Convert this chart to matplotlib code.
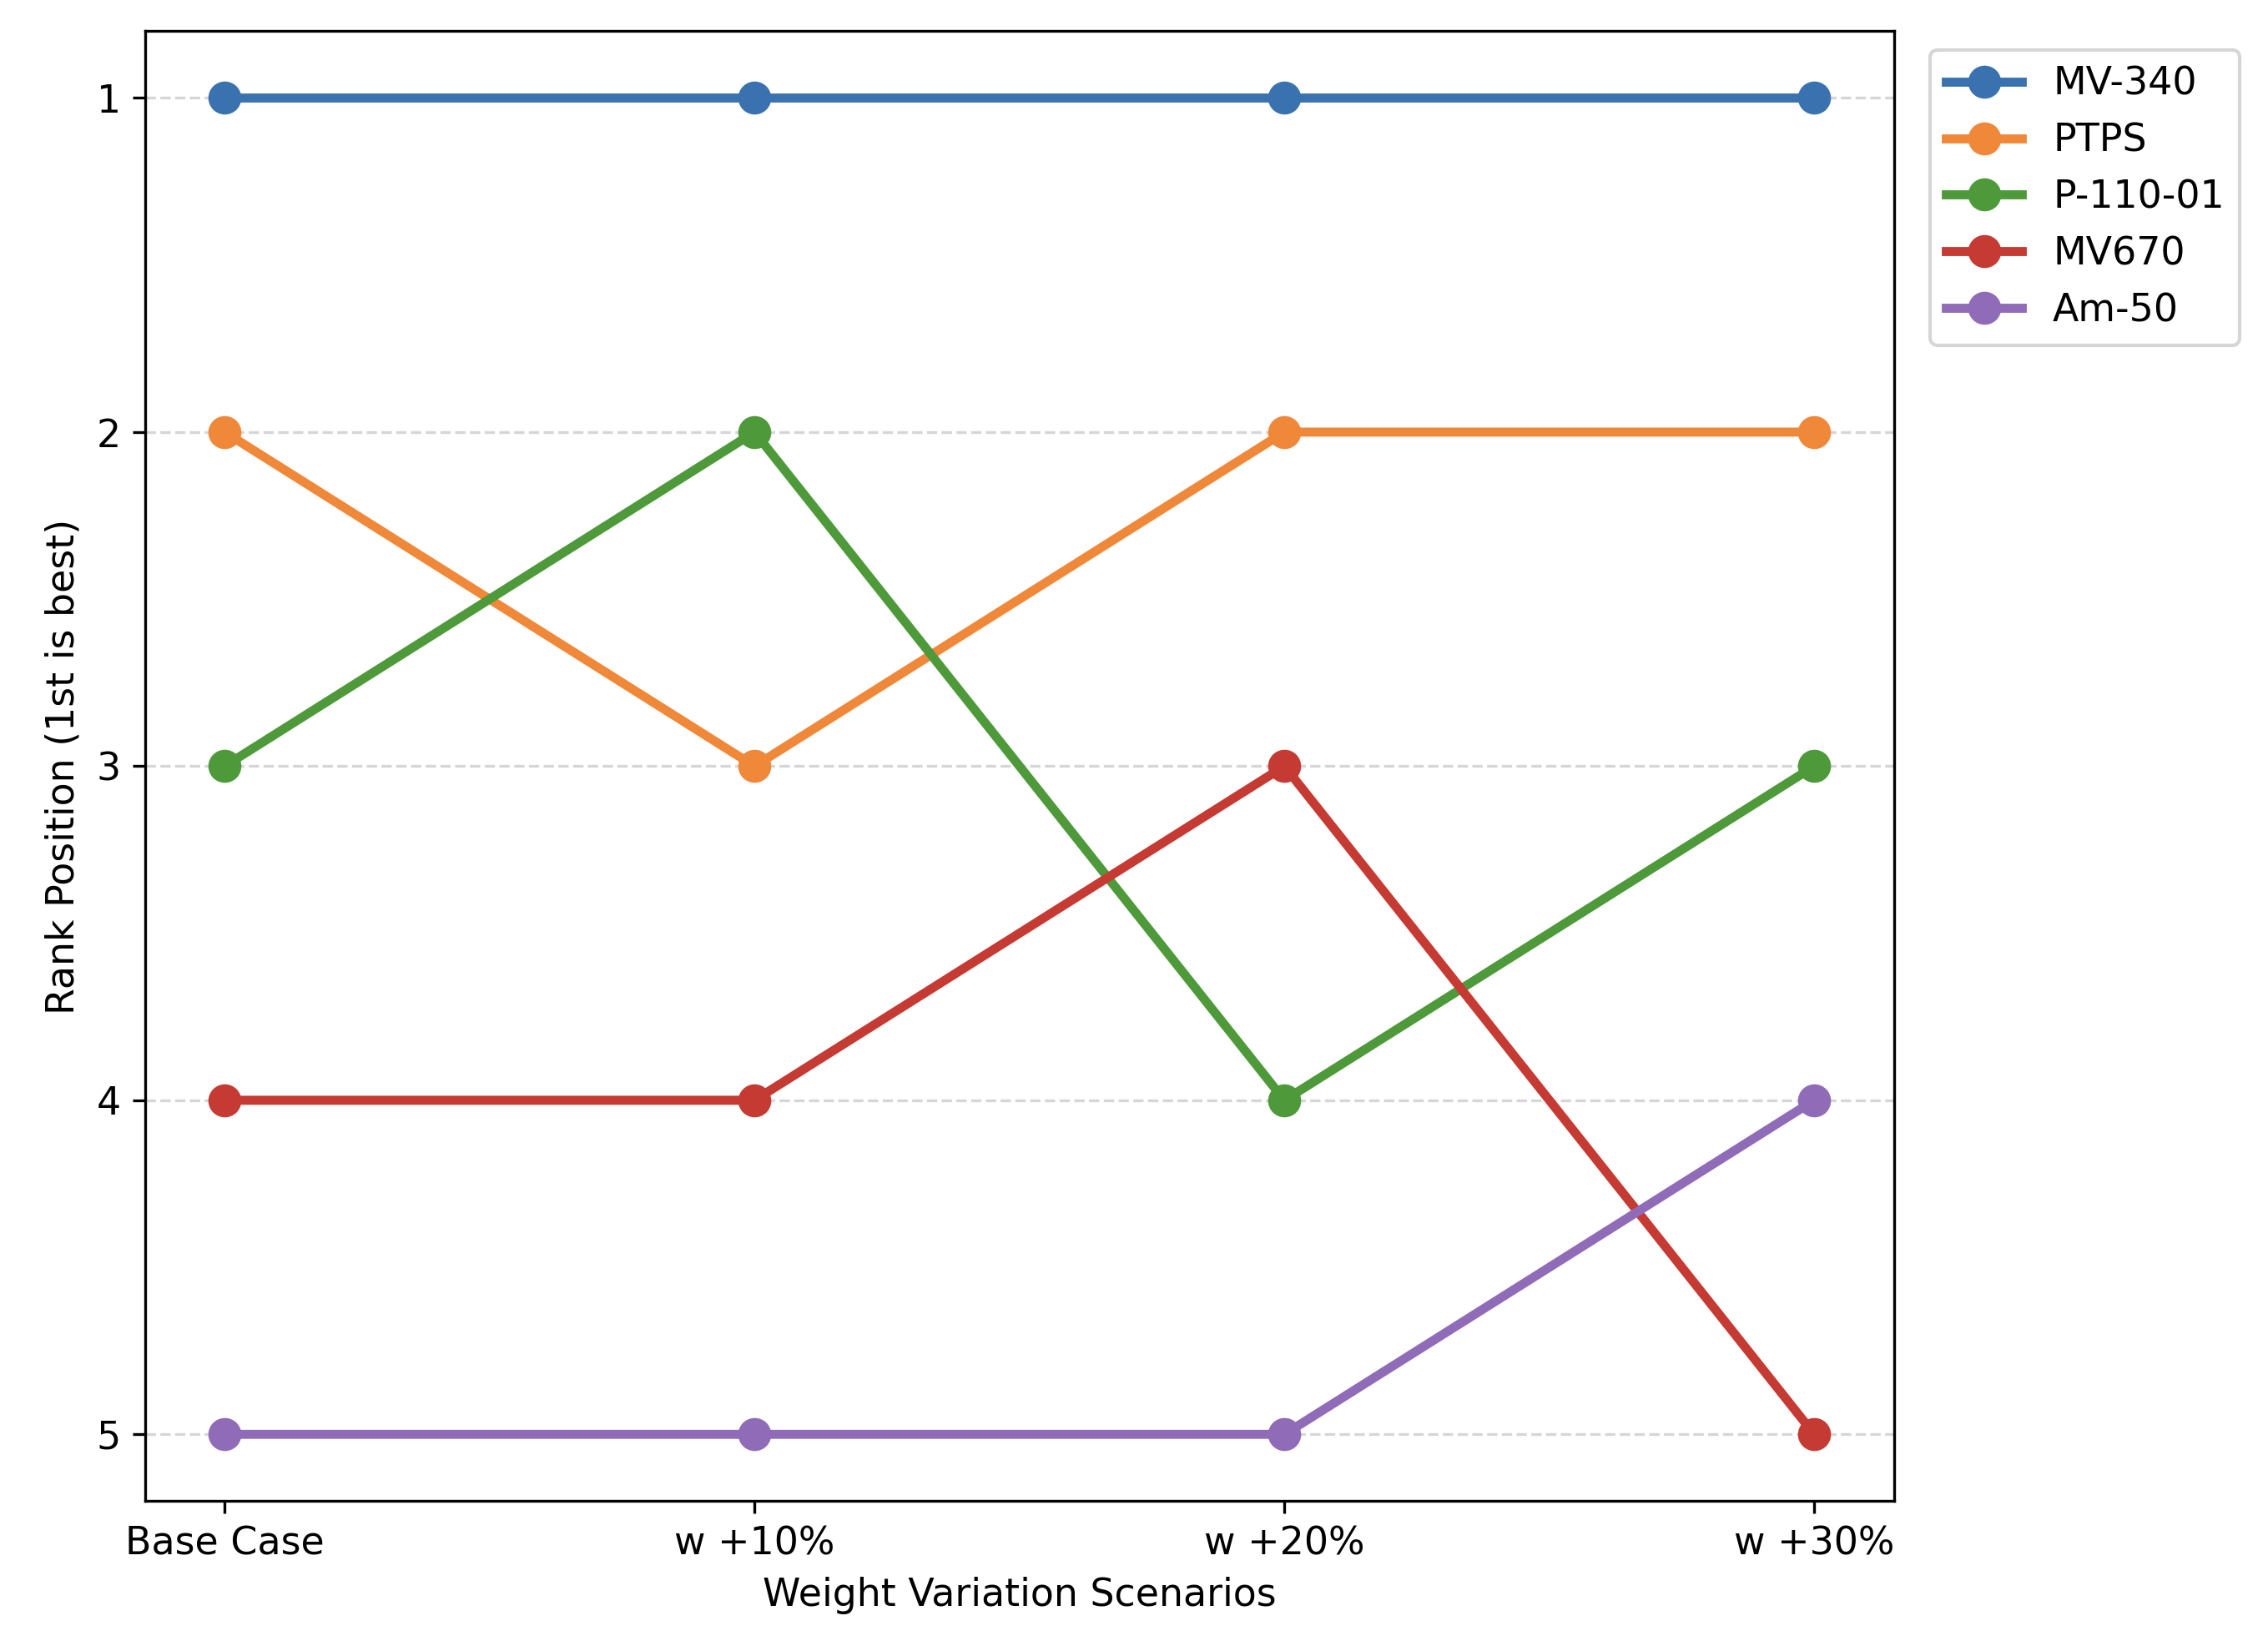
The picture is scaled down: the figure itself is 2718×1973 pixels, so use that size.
import matplotlib
matplotlib.use("Agg")
import matplotlib.pyplot as plt

scenarios = ["Base Case", "w +10%", "w +20%", "w +30%"]
names = ["MV-340", "PTPS", "P-110-01", "MV670", "Am-50"]
ranks = {
    "MV-340": [1, 1, 1, 1],
    "PTPS": [2, 3, 2, 2],
    "P-110-01": [3, 2, 4, 3],
    "MV670": [4, 4, 3, 5],
    "Am-50": [5, 5, 5, 4],
}
colors = ["#3a72b0", "#f0883a", "#4e9a3b", "#c53a32", "#8f6bb8"]

fig = plt.figure(figsize=(9.06, 6.577), dpi=300)
ax = fig.add_axes([0.064, 0.088, 0.771, 0.893])
x = list(range(len(scenarios)))
for n, c in zip(names, colors):
    ax.plot(x, ranks[n], marker="o", color=c, lw=2.6, ms=8.5, label=n)
ax.set_yticks([1, 2, 3, 4, 5])
ax.set_ylim(5.2, 0.8)
ax.set_xticks(x)
ax.set_xticklabels(scenarios)
ax.set_xlim(-0.15, 3.15)
ax.grid(axis="y", ls="--", color="#cccccc", alpha=0.8)
ax.tick_params(labelsize=11)
ax.set_xlabel("Weight Variation Scenarios", fontsize=11)
ax.set_ylabel("Rank Position (1st is best)", fontsize=11)
ax.legend(loc="upper left", bbox_to_anchor=(1.01, 1.0), fontsize=11)
fig.savefig("out.png", dpi=300)
